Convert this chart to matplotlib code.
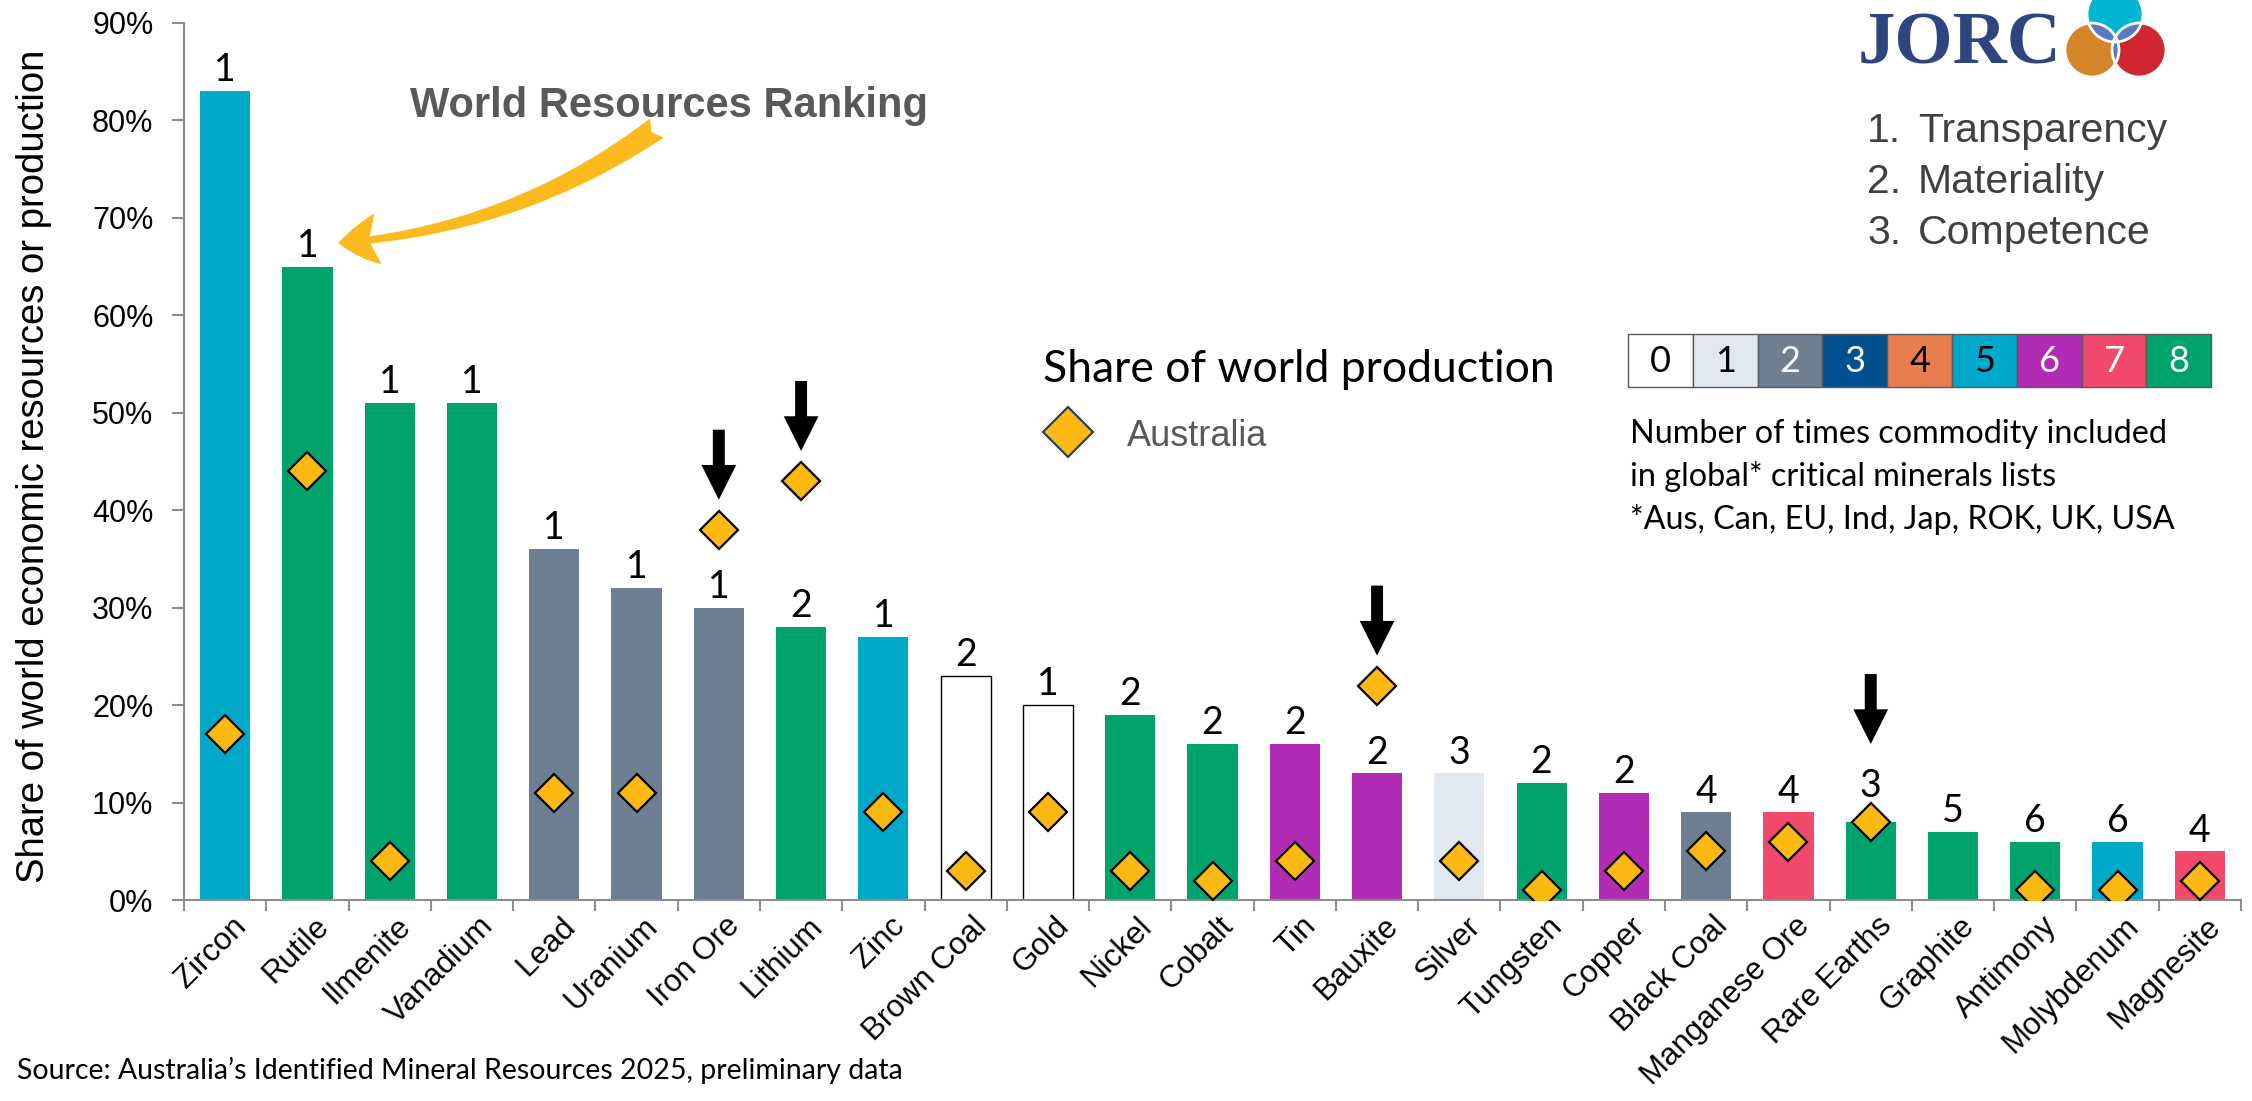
import numpy as np
import matplotlib
matplotlib.use('Agg')
import matplotlib.pyplot as plt
from matplotlib.patches import Circle, Rectangle, FancyArrowPatch
from matplotlib.transforms import offset_copy, ScaledTranslation
from matplotlib.ticker import FuncFormatter

plt.rcParams['font.family'] = ['Liberation Sans', 'DejaVu Sans']

commodities = ['Zircon', 'Rutile', 'Ilmenite', 'Vanadium', 'Lead', 'Uranium', 'Iron Ore',
               'Lithium', 'Zinc', 'Brown Coal', 'Gold', 'Nickel', 'Cobalt', 'Tin', 'Bauxite',
               'Silver', 'Tungsten', 'Copper', 'Black Coal', 'Manganese Ore', 'Rare Earths',
               'Graphite', 'Antimony', 'Molybdenum', 'Magnesite']
# share of world economic resources (%)
world_share = [83, 65, 51, 51, 36, 32, 30, 28, 27, 23, 20, 19, 16, 16, 13, 13, 12, 11, 9, 9, 8, 7, 6, 6, 5]
# Australia's share of world production (%)
aus_production = [17, 44, 4, np.nan, 11, 11, 38, 43, 9, 3, 9, 3, 2, 4, 22, 4, 1, 3, 5, 6, 8, np.nan, 1, 1, 2]
world_rank = [1, 1, 1, 1, 1, 1, 1, 2, 1, 2, 1, 2, 2, 2, 2, 3, 2, 2, 4, 4, 3, 5, 6, 6, 4]
# number of critical minerals lists the commodity appears on
critical_lists = [5, 8, 8, 8, 2, 2, 2, 8, 5, 0, 0, 8, 8, 6, 6, 1, 8, 6, 2, 7, 8, 8, 8, 5, 7]
highlighted = ['Iron Ore', 'Lithium', 'Bauxite', 'Rare Earths']
arrow_gap_px = [30, 30, 30, 78]

list_colors = ['#FFFFFF', '#E1E8F0', '#6E7F91', '#00508F', '#E87D4E',
               '#00A8C9', '#B22BB4', '#F0496B', '#00A36B']
list_text = ['black', 'black', 'white', 'white', 'black', 'black', 'white', 'white', 'white']
jorc_principles = ['Transparency', 'Materiality', 'Competence']

W, H = 2252, 1101
gold = '#FDB913'
grey_axis = '#8C8C8C'

fig = plt.figure(figsize=(W / 100, H / 100), dpi=100)
ax = fig.add_axes([184 / W, 1 - 900 / H, (2241 - 184) / W, (900 - 23) / H])

x = np.arange(len(commodities))
bar_cols = [list_colors[c] for c in critical_lists]
edge_cols = ['black' if c == 0 else 'none' for c in critical_lists]
bars = ax.bar(x, world_share, width=0.61, color=bar_cols, edgecolor=edge_cols, linewidth=1, zorder=2)
rank_labels = ax.bar_label(bars, labels=[str(r) for r in world_rank], padding=2,
                           fontsize=27, family='Lato')
# rare earths label sits above its diamond
rank_labels[commodities.index('Rare Earths')].xyann = (0, 13)

ax.plot(x, aus_production, linestyle='none', marker='D', ms=19, mfc=gold, mec='black', mew=1.6, zorder=5)

# black arrows pointing at highlighted commodities
for name, gap in zip(highlighted, arrow_gap_px):
    i = commodities.index(name)
    tip = offset_copy(ax.transData, fig=fig, y=gap, units='dots')
    tail = offset_copy(ax.transData, fig=fig, y=gap + 70, units='dots')
    ax.annotate('', xy=(i, aus_production[i]), xycoords=tip,
                xytext=(i, aus_production[i]), textcoords=tail,
                arrowprops=dict(arrowstyle='simple,head_length=2.5,head_width=2.5,tail_width=0.86',
                                mutation_scale=10, color='black', lw=0, shrinkA=0, shrinkB=0),
                zorder=6)

ax.set_xlim(-0.5, len(commodities) - 0.5)
ax.set_ylim(0, 90)
ax.set_yticks(range(0, 91, 10))
ax.yaxis.set_major_formatter(FuncFormatter(lambda v, p: f'{v:.0f}%'))
ax.set_xticks(x)
ax.set_xticklabels(commodities, rotation=45, ha='right', va='top', rotation_mode='anchor', fontsize=22.5)
ax.set_xticks(np.arange(len(commodities) + 1) - 0.5, minor=True)
ax.tick_params(axis='x', which='major', length=0, pad=8)
ax.tick_params(axis='x', which='minor', length=8, width=1.5, color=grey_axis)
ax.tick_params(axis='y', length=9, width=1.5, color=grey_axis, labelsize=22, pad=13)
for lbl in ax.get_xticklabels():
    lbl.set_transform(lbl.get_transform() + ScaledTranslation(0.06, 0, fig.dpi_scale_trans))
for s in ['top', 'right']:
    ax.spines[s].set_visible(False)
for s in ['left', 'bottom']:
    ax.spines[s].set_color(grey_axis)
    ax.spines[s].set_linewidth(1.5)
ax.set_ylabel('Share of world economic resources or production', fontsize=27.5)
ax.yaxis.set_label_coords(-0.064, 0.494)

# overlay in pixel coordinates for annotations, logo and keys
ov = fig.add_axes([0, 0, 1, 1], zorder=3)
ov.set_xlim(0, W)
ov.set_ylim(H, 0)
ov.axis('off')
ov.patch.set_visible(False)

ov.text(410, 117, 'World Resources Ranking', fontsize=30, weight='bold', color='#595959')
ov.add_patch(FancyArrowPatch((657, 128), (338, 243), connectionstyle='arc3,rad=-0.14',
                             arrowstyle='fancy,head_length=2.9,head_width=3.7,tail_width=1.7',
                             mutation_scale=10, color='#FDBA1E', lw=0, shrinkA=0, shrinkB=0))

# JORC logo
ov.text(1858, 63, 'JORC', family='Liberation Serif', weight='bold', fontsize=54, color='#2E4580')
circles = [((2115, 14), 28, '#00B5D1'), ((2092, 50), 27, '#D4852A'), ((2139, 50), 27, '#D0262F')]
for c, r, col in circles:
    ov.add_patch(Circle(c, r, color=col, lw=0))
for a in range(3):
    for b in range(a + 1, 3):
        lens = Circle(circles[a][0], circles[a][1], color='#5B79BD', lw=0)
        ov.add_patch(lens)
        clip = Circle(circles[b][0], circles[b][1], transform=ov.transData)
        lens.set_clip_path(clip)
for c, r, col in circles:
    ov.add_patch(Circle(c, r, fill=False, edgecolor='white', lw=2))

for k, word in enumerate(jorc_principles):
    ov.text(1867, 142 + k * 51, f'{k + 1}.', fontsize=29.5, color='#404040')
    ov.text(1918, 142 + k * 51, word, fontsize=29.5, color='#404040')

# production legend
ov.text(1043, 382, 'Share of world production', family='Lato', fontsize=32)
ov.plot(1068, 432, marker='D', ms=25, mfc=gold, mec='#1F3B5A', mew=1.5)
ov.text(1127, 446, 'Australia', fontsize=26, color='#595959')

# critical minerals colour key
bw = 64.8
for k in range(len(list_colors)):
    ov.add_patch(Rectangle((1628 + k * bw, 334), bw, 53, facecolor=list_colors[k],
                           edgecolor='#595959', lw=1))
    ov.text(1628 + (k + 0.5) * bw, 361, str(k), ha='center', va='center',
            family='Lato', fontsize=26, color=list_text[k])
notes = ['Number of times commodity included', 'in global* critical minerals lists',
         '*Aus, Can, EU, Ind, Jap, ROK, UK, USA']
for k, line in enumerate(notes):
    ov.text(1630, 443 + k * 43, line, family='Lato', fontsize=23.3)

ov.text(17, 1079, 'Source: Australia\u2019s Identified Mineral Resources 2025, preliminary data',
        family='Lato', fontsize=20.5)

fig.savefig('out.png', dpi=100)
